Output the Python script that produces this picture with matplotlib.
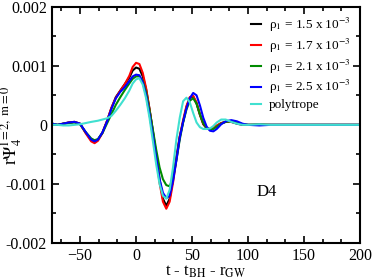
import numpy as np
import matplotlib
matplotlib.use("Agg")
import matplotlib.pyplot as plt
from matplotlib.ticker import MultipleLocator

plt.rcParams['font.family'] = ['Liberation Serif', 'DejaVu Serif']
plt.rcParams['mathtext.fontset'] = 'stix'

# time axis (t - t_BH - r_GW)
t = [-75, -70, -65, -60, -55, -50, -45, -40, -37, -34, -30, -26, -22, -18, -14, -10,
     -6, -3, 0, 3, 6, 9, 12, 15, 18, 21, 24, 27, 30, 33, 36, 39, 42, 45, 48, 51,
     54, 57, 60, 63, 66, 69, 72, 76, 80, 85, 90, 95, 100, 110, 120, 140, 160, 180, 200]

# r Psi_4 (l=2, m=0), units of 1e-3
rho15 = [0.02, 0.0, 0.02, 0.04, 0.05, 0.02, -0.13, -0.26, -0.29, -0.25, -0.13, 0.06, 0.28, 0.47,
         0.58, 0.69, 0.8, 0.92, 0.97, 0.95, 0.82, 0.6, 0.27, -0.1, -0.5, -0.92, -1.25, -1.37,
         -1.25, -0.92, -0.55, -0.2, 0.05, 0.3, 0.46, 0.48, 0.36, 0.17, 0.01, -0.06, -0.08,
         -0.06, -0.02, 0.03, 0.05, 0.05, 0.02, 0.0, 0.0, 0.01, 0.0, 0.0, 0.0, 0.0, 0.0]
rho17 = [0.02, 0.0, 0.02, 0.04, 0.05, 0.02, -0.14, -0.28, -0.31, -0.27, -0.14, 0.06, 0.29, 0.46,
         0.58, 0.69, 0.83, 0.98, 1.05, 1.03, 0.88, 0.62, 0.27, -0.12, -0.55, -0.98, -1.3, -1.42,
         -1.3, -0.98, -0.58, -0.2, 0.08, 0.32, 0.47, 0.49, 0.38, 0.18, 0.02, -0.05, -0.07,
         -0.05, -0.01, 0.03, 0.05, 0.05, 0.03, 0.01, 0.0, 0.0, 0.0, 0.0, 0.0, 0.0, 0.0]
rho21 = [0.02, 0.0, 0.02, 0.03, 0.04, 0.01, -0.12, -0.23, -0.26, -0.24, -0.14, 0.02, 0.18, 0.34,
         0.47, 0.59, 0.7, 0.78, 0.82, 0.82, 0.74, 0.55, 0.25, -0.08, -0.42, -0.72, -0.92, -1.02,
         -1.04, -0.9, -0.6, -0.25, 0.04, 0.26, 0.41, 0.45, 0.36, 0.18, 0.03, -0.05, -0.08,
         -0.07, -0.03, 0.02, 0.05, 0.06, 0.04, 0.01, 0.0, 0.0, 0.0, 0.0, 0.0, 0.0, 0.0]
rho25 = [0.02, 0.0, 0.02, 0.04, 0.05, 0.02, -0.12, -0.25, -0.28, -0.25, -0.13, 0.05, 0.27, 0.45,
         0.56, 0.64, 0.74, 0.82, 0.85, 0.84, 0.72, 0.5, 0.18, -0.18, -0.55, -0.92, -1.15, -1.24,
         -1.2, -0.95, -0.6, -0.22, 0.05, 0.28, 0.45, 0.54, 0.5, 0.33, 0.12, -0.03, -0.1,
         -0.11, -0.07, 0.01, 0.06, 0.08, 0.06, 0.02, 0.0, -0.01, 0.0, 0.0, 0.0, 0.0, 0.0]
poly = [0.0, 0.0, -0.01, -0.01, 0.0, 0.01, 0.03, 0.05, 0.06, 0.07, 0.09, 0.11, 0.15, 0.24,
        0.34, 0.45, 0.58, 0.7, 0.77, 0.79, 0.68, 0.45, 0.12, -0.27, -0.67, -1.0, -1.2, -1.25,
        -1.1, -0.72, -0.25, 0.12, 0.4, 0.46, 0.38, 0.2, 0.04, -0.04, -0.07, -0.07, -0.06,
        -0.02, 0.04, 0.09, 0.09, 0.05, 0.02, 0.0, 0.0, 0.01, 0.0, 0.0, 0.0, 0.0, 0.0]

labels = [r'ρ$_1$ = 1.5 x 10$^{-3}$', r'ρ$_1$ = 1.7 x 10$^{-3}$',
          r'ρ$_1$ = 2.1 x 10$^{-3}$', r'ρ$_1$ = 2.5 x 10$^{-3}$', 'polytrope']
colors = ['black', 'red', '#008b00', 'blue', '#40e0d0']

fig = plt.figure(figsize=(3.74, 2.79), dpi=100)
ax = fig.add_axes([0.139, 0.129, 0.824, 0.847])

for ys, lab, c in zip([rho15, rho17, rho21, rho25, poly], labels, colors):
    ax.plot(t, np.array(ys) * 1e-3, color=c, lw=1.5, label=lab)

ax.set_xlim(-75, 200)
ax.set_ylim(-0.002, 0.002)
ax.xaxis.set_major_locator(MultipleLocator(50))
ax.xaxis.set_minor_locator(MultipleLocator(50 / 3))
ax.yaxis.set_major_locator(MultipleLocator(0.001))
ax.yaxis.set_minor_locator(MultipleLocator(0.0005))
ax.set_yticks([-0.002, -0.001, 0, 0.001, 0.002])
ax.set_yticklabels(['-0.002', '-0.001', '0', '0.001', '0.002'])
ax.tick_params(which='both', direction='in', top=True, right=True, labelsize=11.5, width=1.2)
ax.tick_params(which='major', length=5)
ax.tick_params(which='minor', length=3)
for s in ax.spines.values():
    s.set_linewidth(1.5)

ax.set_xlabel(r't - t$_{\mathrm{BH}}$ - r$_{\mathrm{GW}}$', fontsize=12, labelpad=0)
ax.set_ylabel(r'r$\Psi_4^{\mathrm{l=2,\ m=0}}$', fontsize=13, va='center')
ax.yaxis.set_label_coords(-0.13, 0.5)
ax.text(117, -0.00113, 'D4', fontsize=12, ha='center', va='center')

ax.legend(loc='upper right', frameon=False, fontsize=9.5, handlelength=0.8,
          handletextpad=0.6, labelspacing=0.2, borderaxespad=0.3)

fig.savefig('out.png', dpi=100)
